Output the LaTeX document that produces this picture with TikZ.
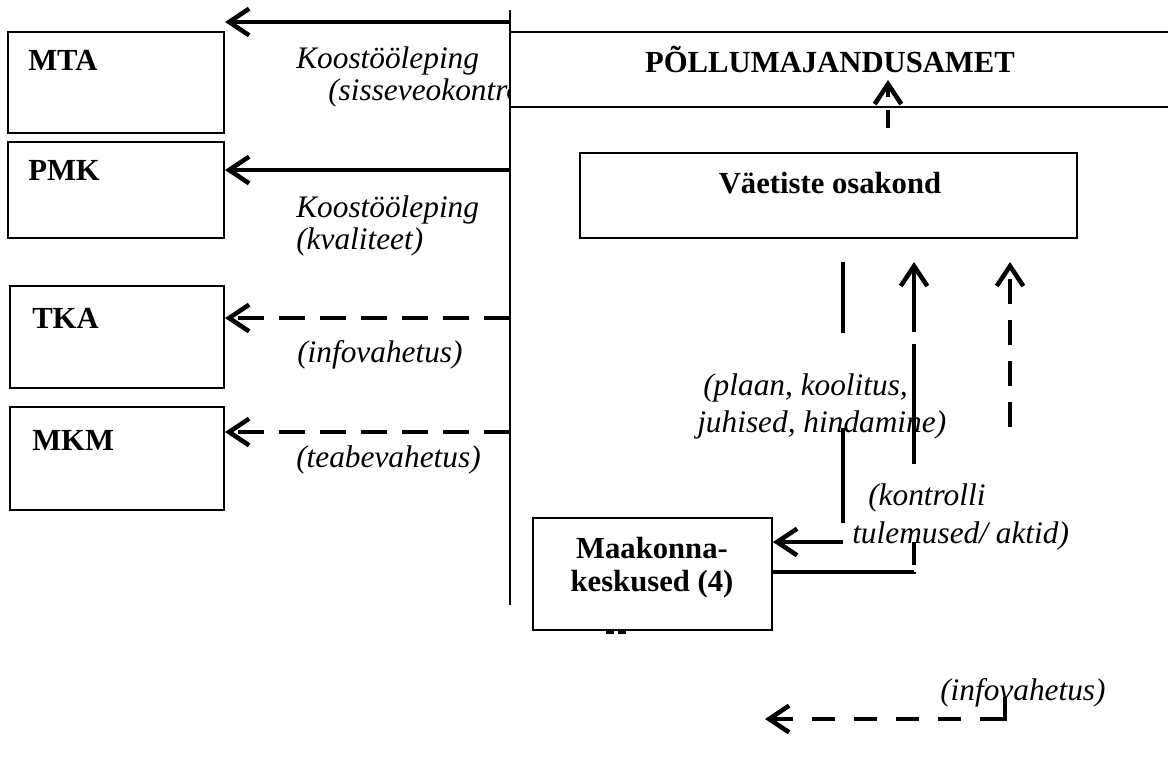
\documentclass[tikz,border=0pt]{standalone}
\usepackage{fontspec}
\setmainfont{Liberation Serif}
\usetikzlibrary{arrows.meta}
\begin{document}
\begin{tikzpicture}[x=0.75pt,y=-0.75pt,
  bx/.style={draw, line width=1.5pt, inner sep=0pt},
  it/.style={font=\fontsize{23.5}{24}\selectfont\itshape, inner sep=0pt},
  bf/.style={font=\fontsize{23}{24}\selectfont\bfseries, inner sep=0pt},
  arr/.style={line width=3.4pt, -{Straight Barb[length=15pt,width=20pt]}},
  dsh/.style={dash pattern=on 19.5pt off 11.25pt}]
\useasboundingbox (0,0) rectangle (1168,778);
% left boxes
\node[bx, minimum width=162pt, minimum height=75.75pt] (mta) at (116,82.5) {};
\node[bx, minimum width=162pt, minimum height=72pt] (pmk) at (116,190) {};
\node[bx, minimum width=160.5pt, minimum height=76.5pt] (tka) at (117,337) {};
\node[bx, minimum width=160.5pt, minimum height=77.25pt] (mkm) at (117,458.5) {};
\node[bf, anchor=base west] (mtaT) at (28,70) {MTA};
\node[bf, anchor=base west] (pmkT) at (28,180) {PMK};
\node[bf, anchor=base west] (tkaT) at (32,328) {TKA};
\node[bf, anchor=base west] (mkmT) at (32,450) {MKM};
% left labels
\node[it, anchor=west, align=left] (k1) at (296,77) {Koostööleping\\\hspace*{24pt}(sisseveokontroll)};
\node[it, anchor=west, align=left] (k2) at (296,226) {Koostööleping\\(kvaliteet)};
\node[it, anchor=base west] (i1) at (297,362) {(infovahetus)};
\node[it, anchor=base west] (t1) at (296,467) {(teabevahetus)};
% top box
\node[fill=white, draw=none, inner sep=0pt, minimum width=498.75pt, minimum height=55.5pt, anchor=north west] (pm) at (510,32) {};
\draw[line width=1.5pt] (pm.north west) -- (pm.north east) (pm.south west) -- (pm.south east);
\node[bf, anchor=base] (pmT) at (830,72) {PÕLLUMAJANDUSAMET};
% divider
\coordinate (dtop) at (510,10);
\coordinate (dbot) at (510,605);
\draw[line width=1.5pt] (dtop) -- (dbot);
% right boxes
\node[bx, minimum width=372.75pt, minimum height=63.75pt] (vae) at (828.5,195.5) {};
\node[bf, anchor=base] (vaeT) at (830,193) {Väetiste osakond};
\node[bx, minimum width=179.25pt, minimum height=84pt] (maak) at (652.5,574) {};
\node[bf, align=center, font=\fontsize{23}{24.75}\selectfont\bfseries] (maakT) at (652,568) {Maakonna-\\keskused (4)};
% right labels
\node[it, anchor=west, align=left, font=\fontsize{23.5}{27.75}\selectfont\itshape] (pl) at (697,406) {\hspace*{4.5pt}(plaan, koolitus,\\juhised, hindamine)};
\node[it, anchor=west, align=left, font=\fontsize{23.5}{28.5}\selectfont\itshape] (ko) at (852,517) {\hspace*{12pt}(kontrolli\\tulemused/ aktid)};
\node[it, anchor=base west] (i2) at (940,700) {(infovahetus)};
% left arrows
\coordinate (c1) at (510,22);
\coordinate (c2) at (510,170);
\coordinate (c3) at (510,318);
\coordinate (c4) at (510,432);
\draw[arr] (c1) -- (c1 -| mta.east);
\draw[arr] (c2) -- (c2 -| pmk.east);
\draw[arr, dsh] (c3) -- (c3 -| tka.east);
\draw[arr, dsh] (c4) -- (c4 -| mkm.east);
% up arrow to top box
\coordinate (u1) at (888,128);
\coordinate (u2) at (888,80);
\draw[arr, dash pattern=on 13.5pt off 9.75pt] (u1) -- (u2);
% from osakond to maakond
\coordinate (a1) at (843,262);
\coordinate (a2) at (843,542);
\draw[arr, dash pattern=on 53.25pt off 71.25pt on 71.25pt off 14.25pt on 150pt] (a1) -- (a2) -- (a2 -| maak.east);
% from maakond to osakond
\coordinate (b1) at (914,572);
\coordinate (b2) at (914,262);
\draw[arr, dash pattern=on 106pt off 5.25pt on 17.25pt off 58.5pt on 90pt off 9pt on 75pt] (b1 -| maak.east) -- (b1) -- (b2);
% dashed up arrow
\coordinate (r1) at (1010,427);
\coordinate (r2) at (1010,262);
\draw[arr, dash pattern=on 18.75pt off 12pt] (r1) -- (r2);
% small marks under maakond
\coordinate (m1) at (606,632);
\coordinate (m2) at (628,632);
\draw[line width=2.5pt, dash pattern=on 6pt off 3pt] (m1) -- (m2);
% bottom dashed arrow
\coordinate (e1) at (1005,697);
\coordinate (e2) at (1005,719);
\coordinate (e3) at (765,719);
\draw[arr, dash pattern=on 35.25pt off 14.25pt on 17.25pt off 14.25pt on 17.25pt off 14.25pt on 17.25pt off 14.25pt on 17.25pt off 14.25pt on 17.25pt off 30pt] (e1) -- (e2) -- (e3);
\end{tikzpicture}
\end{document}
